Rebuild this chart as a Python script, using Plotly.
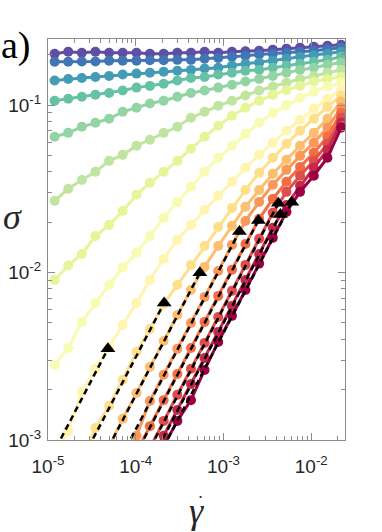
import plotly.graph_objects as go
from plotly.colors import sample_colorscale

# shear rate (x) shared by all curves
gamma_dot = [1.19e-5, 1.70e-5, 2.43e-5, 3.47e-5, 4.97e-5, 7.10e-5, 1.02e-4, 1.45e-4,
             2.08e-4, 2.98e-4, 4.26e-4, 6.09e-4, 8.71e-4, 1.25e-3, 1.78e-3, 2.55e-3,
             3.65e-3, 5.22e-3, 7.46e-3, 1.07e-2, 1.53e-2, 2.19e-2]

N = None
# stress curves, top (purple) to bottom (dark red)
s01 = [0.202, 0.208, 0.205, 0.208, 0.205, 0.205, 0.205, 0.202, 0.202, 0.205, 0.205, 0.208, 0.205, 0.208, 0.209, 0.211, 0.214, 0.217, 0.220, 0.223, 0.226, 0.229]
s02 = [0.181, 0.181, 0.182, 0.182, 0.184, 0.184, 0.184, 0.185, 0.185, 0.186, 0.186, 0.189, 0.191, 0.194, 0.197, 0.200, 0.202, 0.205, 0.208, 0.211, 0.215, 0.220]
s03 = [0.140, 0.143, 0.145, 0.147, 0.149, 0.152, 0.154, 0.156, 0.158, 0.160, 0.162, 0.165, 0.167, 0.172, 0.176, 0.179, 0.184, 0.189, 0.194, 0.198, 0.202, 0.208]
s04 = [0.106, 0.109, 0.112, 0.115, 0.118, 0.122, 0.127, 0.130, 0.134, 0.140, 0.145, 0.147, 0.152, 0.156, 0.160, 0.162, 0.167, 0.172, 0.176, 0.181, 0.186, 0.194]
s05 = [0.0646, 0.0682, 0.0741, 0.0783, 0.0827, 0.0911, 0.0962, 0.102, 0.106, 0.112, 0.118, 0.122, 0.127, 0.132, 0.138, 0.143, 0.149, 0.156, 0.162, 0.167, 0.174, 0.179]
s06 = [0.0268, 0.0316, 0.0357, 0.0399, 0.0464, 0.0504, 0.0571, 0.0620, 0.0682, 0.0741, 0.0839, 0.0911, 0.0989, 0.106, 0.114, 0.122, 0.129, 0.136, 0.143, 0.149, 0.156, 0.162]
s07 = [0.00903, 0.0110, 0.0129, 0.0165, 0.0192, 0.0233, 0.0291, 0.0343, 0.0399, 0.0464, 0.0548, 0.0646, 0.0751, 0.0862, 0.0962, 0.106, 0.115, 0.123, 0.130, 0.138, 0.143, 0.147]
s08 = [0.00281, 0.00354, 0.00507, 0.00658, 0.00843, 0.0107, 0.0131, 0.0165, 0.0212, 0.0264, 0.0325, 0.0399, 0.0484, 0.0571, 0.0673, 0.0783, 0.0898, 0.100, 0.110, 0.120, 0.129, 0.136]
s09 = [0.000814, 0.00113, 0.00194, 0.00266, 0.00359, 0.00486, 0.00658, 0.00903, 0.0121, 0.0157, 0.0192, 0.0237, 0.0287, 0.0348, 0.0422, 0.0504, 0.0595, 0.0702, 0.0816, 0.0949, 0.109, 0.123]
s10 = [N, N, 0.000759, 0.00118, 0.00160, 0.00228, 0.00336, 0.00460, 0.00649, 0.00843, 0.0111, 0.0144, 0.0187, 0.0243, 0.0311, 0.0394, 0.0484, 0.0586, 0.0702, 0.0827, 0.0975, 0.114]
s11 = [N, N, N, N, 0.000908, 0.00134, 0.00191, 0.00273, 0.00390, 0.00558, 0.00787, 0.0108, 0.0144, 0.0190, 0.0247, 0.0311, 0.0388, 0.0471, 0.0571, 0.0682, 0.0827, 0.105]
s12 = [N, N, N, N, N, 0.000759, 0.00106, 0.00171, 0.00245, 0.00350, 0.00500, 0.00715, 0.0102, 0.0146, 0.0203, 0.0264, 0.0334, 0.0410, 0.0497, 0.0595, 0.0731, 0.0962]
s13 = [N, N, N, N, N, N, 0.000848, 0.00121, 0.00173, 0.00248, 0.00354, 0.00507, 0.00725, 0.0104, 0.0148, 0.0209, 0.0275, 0.0348, 0.0427, 0.0518, 0.0646, 0.0898]
s14 = [N, N, N, N, N, N, N, 0.000896, 0.00130, 0.00186, 0.00266, 0.00380, 0.00543, 0.00777, 0.0111, 0.0159, 0.0227, 0.0303, 0.0378, 0.0464, 0.0586, 0.0839]
s15 = [N, N, N, N, N, N, N, 0.000739, 0.00106, 0.00151, 0.00216, 0.00309, 0.00442, 0.00632, 0.00903, 0.0129, 0.0185, 0.0253, 0.0329, 0.0422, 0.0540, 0.0783]
s16 = [N, N, N, N, N, N, N, N, 0.000921, 0.00130, 0.00173, 0.00262, 0.00385, 0.00551, 0.00787, 0.0113, 0.0161, 0.0230, 0.0303, 0.0378, 0.0484, 0.0731]
curves = [s01, s02, s03, s04, s05, s06, s07, s08, s09, s10, s11, s12, s13, s14, s15, s16]

# end of the Newtonian (slope 1) fits, one per lower curve
tri_rate = [4.82e-5, 2.11e-4, 5.38e-4, 1.52e-3, 2.50e-3, 4.22e-3, 4.45e-3, 6.01e-3]
tri_stress = [3.50e-3, 6.58e-3, 9.96e-3, 1.758e-2, 2.047e-2, 2.59e-2, 2.223e-2, 2.624e-2]

x_ticks = [1e-5, 1e-4, 1e-3, 1e-2]
x_ticktext = ['10<sup>-5</sup>', '10<sup>-4</sup>', '10<sup>-3</sup>', '10<sup>-2</sup>']
y_ticks = [1e-3, 1e-2, 1e-1]
y_ticktext = ['10<sup>-3</sup>', '10<sup>-2</sup>', '10<sup>-1</sup>']

x_range = [-5, -1.615]
y_range = [-3, -0.606]

# minor tick positions (2..9 per decade)
x_minor = [m * d for d in [1e-5, 1e-4, 1e-3, 1e-2] for m in range(2, 10)]
y_minor = [m * d for d in [1e-3, 1e-2, 1e-1] for m in range(2, 10)]

colors = sample_colorscale('Spectral', [1 - i / (len(curves) - 1) for i in range(len(curves))])

fig = go.Figure()

for s, c in zip(curves, colors):
    fig.add_trace(go.Scatter(
        x=gamma_dot, y=s, mode='lines+markers',
        line=dict(color=c, width=3),
        marker=dict(color=c, size=10),
        connectgaps=False, showlegend=False))

# dashed slope-1 fits, from below the axis up to the triangle
y_floor = 8e-4
for xt, yt in zip(tri_rate, tri_stress):
    fig.add_trace(go.Scatter(
        x=[xt * y_floor / yt, xt], y=[y_floor, yt], mode='lines',
        line=dict(color='black', width=2.5, dash='6px,4px'),
        showlegend=False))

fig.add_trace(go.Scatter(
    x=tri_rate, y=tri_stress, mode='markers',
    marker=dict(symbol='triangle-up', color='black', size=13),
    showlegend=False))

gray = '#8c8c8c'
axis_common = dict(
    type='log', showline=True, linecolor=gray, linewidth=1, mirror='ticks',
    ticks='inside', ticklen=7, tickcolor=gray, showgrid=False, zeroline=False,
    automargin=False,
    tickfont=dict(family='Liberation Sans, Arial', size=19, color='#262626'),
)

fig.update_xaxes(range=x_range, tickvals=x_ticks, ticktext=x_ticktext,
                 ticklabelstandoff=9,
                 minor=dict(tickmode='array', tickvals=x_minor, ticks='inside',
                            ticklen=4, tickcolor=gray, showgrid=False),
                 **axis_common)
fig.update_yaxes(range=y_range, tickvals=y_ticks, ticktext=y_ticktext,
                 ticklabelstandoff=2,
                 minor=dict(tickmode='array', tickvals=y_minor, ticks='inside',
                            ticklen=4, tickcolor=gray, showgrid=False),
                 **axis_common)

fig.add_annotation(text='a)', xref='paper', yref='paper', x=-0.165, y=0.985,
                   xanchor='left', yanchor='middle', showarrow=False,
                   font=dict(family='Liberation Serif', size=38, color='black'))
fig.add_annotation(text='<i>σ</i>', xref='paper', yref='paper', x=-0.121, y=0.556,
                   xanchor='center', yanchor='middle', showarrow=False,
                   font=dict(family='Liberation Serif', size=36, color='#262626'))
fig.add_annotation(text='<i>γ</i>', xref='paper', yref='paper', x=0.5, y=-0.178,
                   xanchor='center', yanchor='middle', showarrow=False,
                   font=dict(family='Liberation Serif', size=36, color='#262626'))
fig.add_annotation(text='•', xref='paper', yref='paper', x=0.514, y=-0.142,
                   xanchor='center', yanchor='middle', showarrow=False,
                   font=dict(family='Liberation Serif', size=9, color='#262626'))

fig.update_layout(
    width=382, height=532,
    margin=dict(l=48, r=37, t=39, b=92),
    plot_bgcolor='white', paper_bgcolor='white',
)

# remove the default page margin so the figure sits at the window's corner
fig.write_html("out.html", config={'displayModeBar': False},
               post_script="document.body.style.margin='0';")
